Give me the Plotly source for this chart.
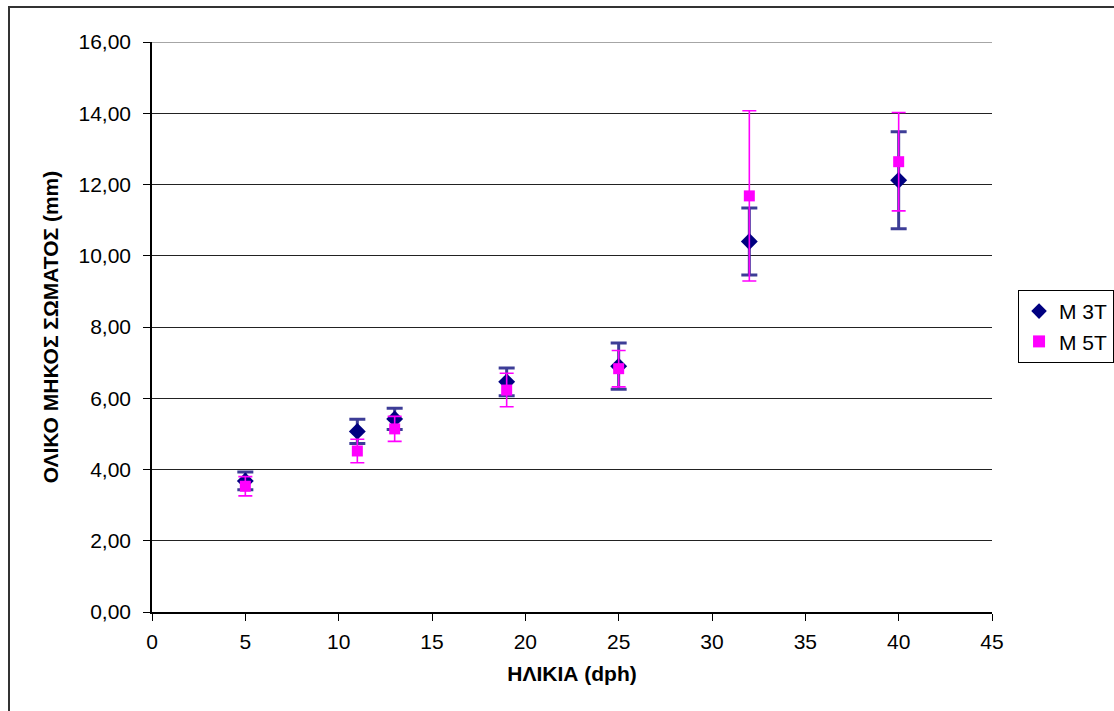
import plotly.graph_objects as go

age = [5, 11, 13, 19, 25, 32, 40]
m3t_mean = [3.68, 5.07, 5.42, 6.46, 6.90, 10.40, 12.12]
m3t_err = [0.25, 0.34, 0.30, 0.39, 0.65, 0.94, 1.36]
m5t_mean = [3.53, 4.52, 5.14, 6.23, 6.83, 11.68, 12.64]
m5t_err = [0.27, 0.33, 0.35, 0.47, 0.51, 2.39, 1.38]
yticks = [0, 2, 4, 6, 8, 10, 12, 14, 16]
ytick_text = ["0,00", "2,00", "4,00", "6,00", "8,00", "10,00", "12,00", "14,00", "16,00"]
xticks = [0, 5, 10, 15, 20, 25, 30, 35, 40, 45]

FONT = "Liberation Sans, Arial, sans-serif"

fig = go.Figure()
fig.add_trace(go.Scatter(
    x=age, y=m3t_mean, mode="markers", name="M 3T",
    marker=dict(symbol="diamond", color="#000080", size=13),
    error_y=dict(type="data", array=m3t_err, visible=True,
                 color="rgba(40,40,140,0.9)", thickness=3, width=8),
))
fig.add_trace(go.Scatter(
    x=age, y=m5t_mean, mode="markers", name="M 5T",
    marker=dict(symbol="square", color="#FF00FF", size=11),
    error_y=dict(type="data", array=m5t_err, visible=True,
                 color="#FF00FF", thickness=1.6, width=7),
))

fig.update_layout(
    width=1114, height=711,
    margin=dict(l=152, r=122, t=42, b=99, autoexpand=False),
    paper_bgcolor="white", plot_bgcolor="white",
    font=dict(family=FONT, size=21, color="black"),
    showlegend=True,
    legend=dict(x=1.031, y=0.565, xanchor="left", yanchor="top",
                bordercolor="black", borderwidth=1, bgcolor="white",
                font=dict(size=21), itemsizing="constant", itemwidth=30,
                tracegroupgap=0),
    xaxis=dict(range=[0, 45], tickvals=xticks, showgrid=False, zeroline=False,
               showline=True, linecolor="black", linewidth=1.5,
               ticks="outside", ticklen=7, tickcolor="black",
               tickfont=dict(size=21), ticklabelstandoff=3,
               title=dict(text="<b>ΗΛΙΚΙΑ (dph)</b>", font=dict(size=21), standoff=14)),
    yaxis=dict(range=[0, 16], tickvals=yticks, ticktext=ytick_text,
               showgrid=True, gridcolor="#222222", gridwidth=1, zeroline=False,
               showline=True, linecolor="black", linewidth=1.5,
               ticks="outside", ticklen=7, tickcolor="black",
               tickfont=dict(size=21), ticklabelstandoff=8,
               title=dict(text="<b>ΟΛΙΚΟ ΜΗΚΟΣ ΣΩΜΑΤΟΣ (mm)</b>", font=dict(size=21), standoff=14)),
)

# top gridline (at 16) drawn in grey as in the reference
fig.add_shape(type="line", xref="paper", yref="y", x0=0, x1=1, y0=yticks[-1], y1=yticks[-1],
              line=dict(color="#888888", width=1.5), layer="below")

# outer chart border
fig.add_shape(type="rect", xref="paper", yref="paper",
              x0=(9 - 152) / 840, x1=(1125 - 152) / 840,
              y0=(612 - 720) / 570, y1=(612 - 7) / 570,
              line=dict(color="#333333", width=2), layer="below")

fig.write_html("out.html", config={"displayModeBar": False},
               post_script="document.body.style.margin='0';")
